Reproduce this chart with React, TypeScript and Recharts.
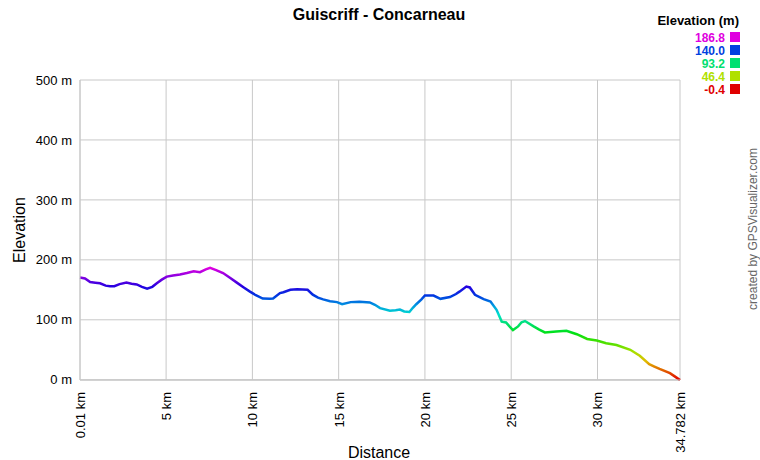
import React from "react";
import { LineChart, Line, XAxis, YAxis, CartesianGrid } from "recharts";

const distanceKm = [
  0.01, 0.3, 0.6, 0.9, 1.17, 1.5, 1.75, 2.0, 2.3, 2.7, 3.0, 3.3, 3.6, 3.9, 4.2, 4.46, 4.75, 5.04, 5.4, 5.8,
  6.2, 6.6, 6.96, 7.3, 7.55, 7.9, 8.3, 8.7, 9.1, 9.5, 9.86, 10.2, 10.6, 11.0, 11.2, 11.6, 11.8, 12.2, 12.6, 13.2,
  13.5, 13.8, 14.1, 14.5, 14.9, 15.2, 15.7, 16.2, 16.8, 17.1, 17.4, 17.97, 18.3, 18.55, 18.8, 19.1, 19.3, 19.5, 19.8, 20.0,
  20.5, 20.9, 21.45, 21.8, 22.0, 22.4, 22.6, 22.9, 23.4, 23.8, 24.15, 24.45, 24.7, 24.9, 25.1, 25.4, 25.6, 25.8, 26.3, 26.6,
  26.95, 27.6, 28.2, 28.8, 29.4, 29.96, 30.5, 31.1, 31.9, 32.45, 33.0, 33.3, 33.6, 34.2, 34.56, 34.782,
];
const elevationM = [
  170.5, 169, 163, 162, 161, 157, 156, 156, 159.5, 162, 160, 159, 155, 152, 155, 161, 167, 172, 174, 175.5,
  178, 181, 179.5, 184, 186.8, 183, 178, 170, 162, 154, 147, 141, 135.5, 135, 135.5, 144.5, 146, 150, 151, 150,
  142, 137, 134, 131, 129.5, 126, 129.5, 130, 129, 125, 119.5, 115, 116, 117, 114, 113, 120, 126, 134, 140.5,
  140.5, 135, 138, 143, 147, 155.5, 154, 141.7, 134.5, 130.5, 116.7, 97, 95.5, 89, 83, 89, 96, 98, 89, 84,
  79, 80.5, 81.7, 76, 68, 65.5, 61, 58, 50, 40, 26, 22, 18, 11, 4, -0.4,
];
const xTicks = [0.01, 5, 10, 15, 20, 25, 30, 34.782];
const xTickLabels = ["0.01 km", "5 km", "10 km", "15 km", "20 km", "25 km", "30 km", "34.782 km"];
const yTicks = [0, 100, 200, 300, 400, 500];
const legendValues = ["186.8", "140.0", "93.2", "46.4", "-0.4"];
const legendColors = ["#e000e0", "#0040e0", "#00e070", "#b0e000", "#e00000"];

const data = distanceKm.map((d, i) => ({ d, e: elevationM[i] }));

const FONT = "'Liberation Sans', Arial, sans-serif";

const gradientStops = Array.from({ length: 13 }, (_, i) => {
  const off = i / 12;
  const hue = 300 * (1 - off);
  return { off, color: `hsl(${hue}, 100%, 44%)` };
});

const XTick = (props: any) => {
  const { x, y, payload, index } = props;
  const label = xTickLabels[xTicks.indexOf(payload.value)] ?? String(payload.value);
  return (
    <text
      x={x + 5}
      y={y + 4}
      transform={`rotate(-90, ${x + 5}, ${y + 4})`}
      textAnchor="end"
      fontSize={13}
      fontFamily={FONT}
      fill="#000"
      key={index}
    >
      {label}
    </text>
  );
};

export default function App() {
  return (
    <div style={{ position: "absolute", left: 0, top: 0, width: 760, height: 460, background: "#fff" }}>
      <LineChart
        width={760}
        height={460}
        data={data}
        margin={{ top: 80, right: 80, bottom: 30, left: 8 }}
      >
        <defs>
          <linearGradient id="elevGrad" x1="0" y1="0" x2="0" y2="1">
            {gradientStops.map((s, i) => (
              <stop key={i} offset={s.off} stopColor={s.color} />
            ))}
          </linearGradient>
        </defs>
        <CartesianGrid stroke="#c8c8c8" strokeWidth={1} />
        <XAxis
          dataKey="d"
          type="number"
          domain={[0.01, 34.782]}
          ticks={xTicks}
          interval={0}
          height={50}
          stroke="#c8c8c8"
          tickLine={false}
          tick={<XTick />}
        />
        <YAxis
          type="number"
          domain={[0, 500]}
          ticks={yTicks}
          width={72}
          stroke="#c8c8c8"
          tickLine={false}
          tickFormatter={(v: number) => `${v} m`}
          tick={{ fontSize: 13, fontFamily: FONT, fill: "#000" }}
        />
        <Line
          dataKey="e"
          type="linear"
          stroke="url(#elevGrad)"
          strokeWidth={2.5}
          dot={false}
          isAnimationActive={false}
        />
      </LineChart>
      <svg
        width={760}
        height={460}
        style={{ position: "absolute", left: 0, top: 0, pointerEvents: "none" }}
      >
        <text x={379} y={20} textAnchor="middle" fontSize={16} fontWeight="bold" fontFamily={FONT} fill="#000">
          Guiscriff - Concarneau
        </text>
        <text x={379} y={458} textAnchor="middle" fontSize={16} fontFamily={FONT} fill="#000">
          Distance
        </text>
        <text
          x={25}
          y={230}
          textAnchor="middle"
          fontSize={16}
          fontFamily={FONT}
          fill="#000"
          transform="rotate(-90, 25, 230)"
        >
          Elevation
        </text>
        <text
          x={757}
          y={229}
          textAnchor="middle"
          fontSize={12}
          fontFamily={FONT}
          fill="#666"
          transform="rotate(-90, 757, 229)"
        >
          created by GPSVisualizer.com
        </text>
        <text x={739} y={25} textAnchor="end" fontSize={13} fontWeight="bold" fontFamily={FONT} fill="#000">
          Elevation (m)
        </text>
        {legendValues.map((v, i) => (
          <g key={v}>
            <text
              x={725}
              y={42 + i * 13}
              textAnchor="end"
              fontSize={12}
              fontWeight="bold"
              fontFamily={FONT}
              fill={legendColors[i]}
            >
              {v}
            </text>
            <rect x={730} y={32 + i * 13} width={10} height={10} fill={legendColors[i]} />
          </g>
        ))}
      </svg>
    </div>
  );
}
